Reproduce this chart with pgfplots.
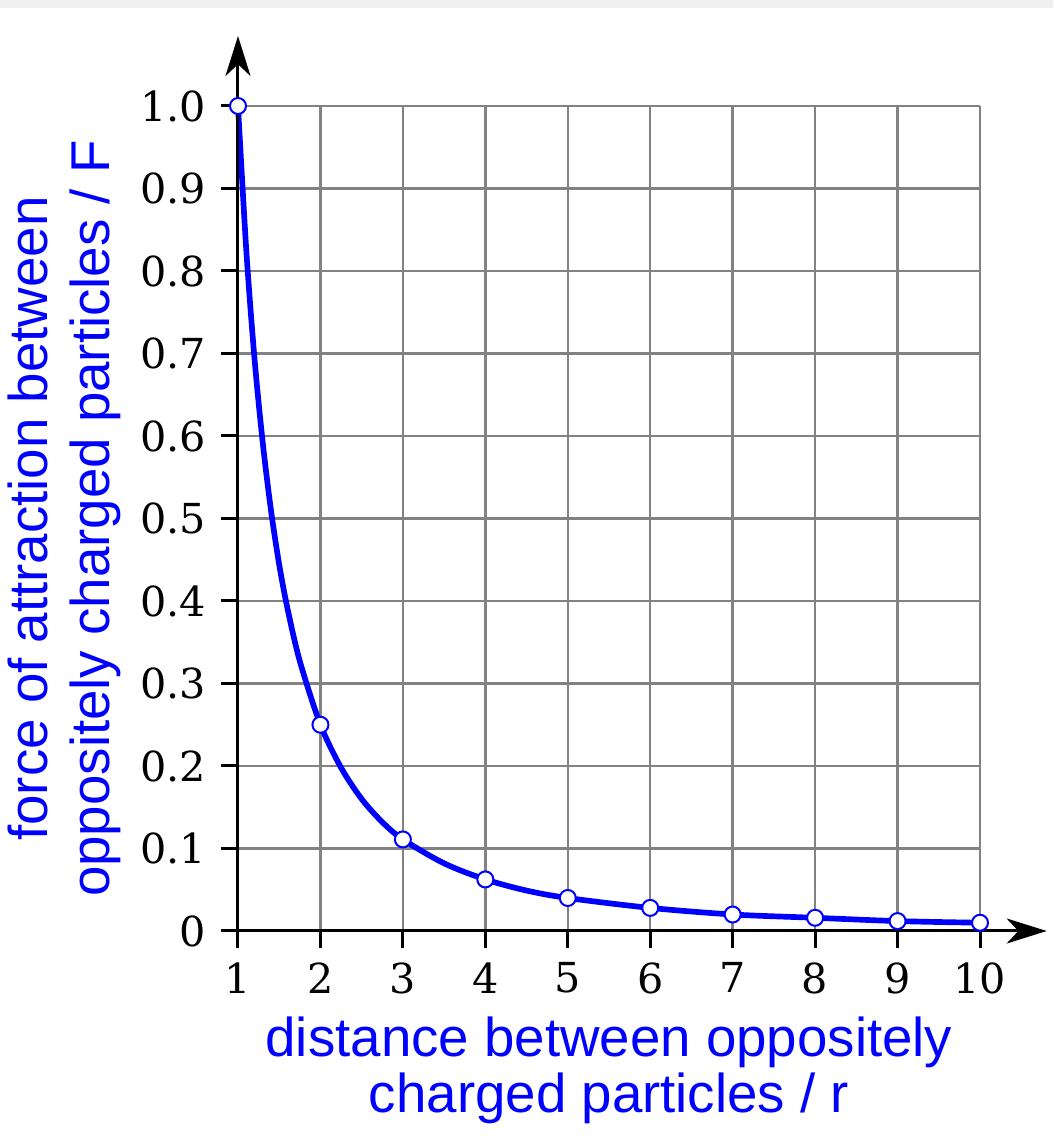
\documentclass[border=0pt]{standalone}
\usepackage{fontspec}
\setmainfont{Liberation Sans}
\newfontfamily\tickfont{DejaVu Serif}
\usepackage{pgfplots}
\pgfplotsset{compat=1.18}
\usetikzlibrary{arrows.meta}
\definecolor{curveblue}{RGB}{0,0,255}
\definecolor{gridgray}{RGB}{130,130,130}

% force against distance
\pgfplotstableread{
r F
1 1.0
1.1 0.826
1.2 0.694
1.3 0.592
1.4 0.510
1.5 0.444
1.6 0.391
1.75 0.327
2 0.25
2.25 0.198
2.5 0.160
2.75 0.132
3 0.111
3.5 0.082
4 0.0625
4.5 0.049
5 0.04
6 0.028
7 0.020
8 0.016
9 0.012
10 0.010
}\curvedata

\pgfplotstableread{
r F
1 1.0
2 0.25
3 0.111
4 0.0625
5 0.04
6 0.028
7 0.020
8 0.016
9 0.012
10 0.010
}\pointdata

\begin{document}
\begin{tikzpicture}
\begin{axis}[
    scale only axis,
    width=222.6pt, height=247.5pt,
    xmin=1, xmax=10, ymin=0, ymax=1,
    axis lines*=left,
    axis line style={line width=0.9pt, black},
    clip=false,
    grid=major,
    major grid style={line width=0.75pt, gridgray},
    xtick={1,2,3,4,5,6,7,8,9,10},
    xticklabels={1,2,3,4,5,6,7,8,9,10},
    ytick={0,0.1,0.2,0.3,0.4,0.5,0.6,0.7,0.8,0.9,1.0},
    yticklabels={0,0.1,0.2,0.3,0.4,0.5,0.6,0.7,0.8,0.9,1.0},
    tick align=outside,
    major tick length=5pt,
    tick style={line width=0.9pt, black},
    tick label style={font=\tickfont\fontsize{12.4}{15}\selectfont, black},
    xticklabel style={yshift=-1pt},
    yticklabel style={xshift=-1pt},
]
\addplot[curveblue, line width=1.7pt, smooth, tension=0.5] table[x=r, y=F] {\curvedata};
\addplot[only marks, mark=*, mark size=2.4pt,
    mark options={fill=white, draw=curveblue, line width=0.6pt}] table[x=r, y=F] {\pointdata};

\coordinate (O) at (rel axis cs:0,0);
\draw[line width=0.9pt, -{Stealth[length=12pt, width=7.5pt, inset=3.5pt]}]
    (rel axis cs:0,0) -- ([yshift=21pt]rel axis cs:0,1);
\draw[line width=0.9pt, -{Stealth[length=12pt, width=7.5pt, inset=3.5pt]}]
    (rel axis cs:0,0) -- ([xshift=20pt]rel axis cs:1,0);

\node[curveblue, anchor=north, align=center, inner sep=0pt,
    font=\fontsize{16.4}{17}\selectfont]
    at ([yshift=-25.5pt]rel axis cs:0.5,0)
    {distance between oppositely\\charged particles / r};
\node[curveblue, rotate=90, anchor=south, align=center, inner sep=0pt,
    font=\fontsize{16.4}{18.5}\selectfont]
    at ([xshift=-35pt]rel axis cs:0,0.5)
    {force of attraction between\\oppositely charged particles / F};
\end{axis}
\fill[black!6] ([shift={(-71.4pt,276.9pt)}]O) rectangle ++(315.9pt,2.4pt);
\path ([shift={(-71.4pt,-62.1pt)}]O) rectangle ++(315.9pt,341.4pt);
\end{tikzpicture}
\end{document}
